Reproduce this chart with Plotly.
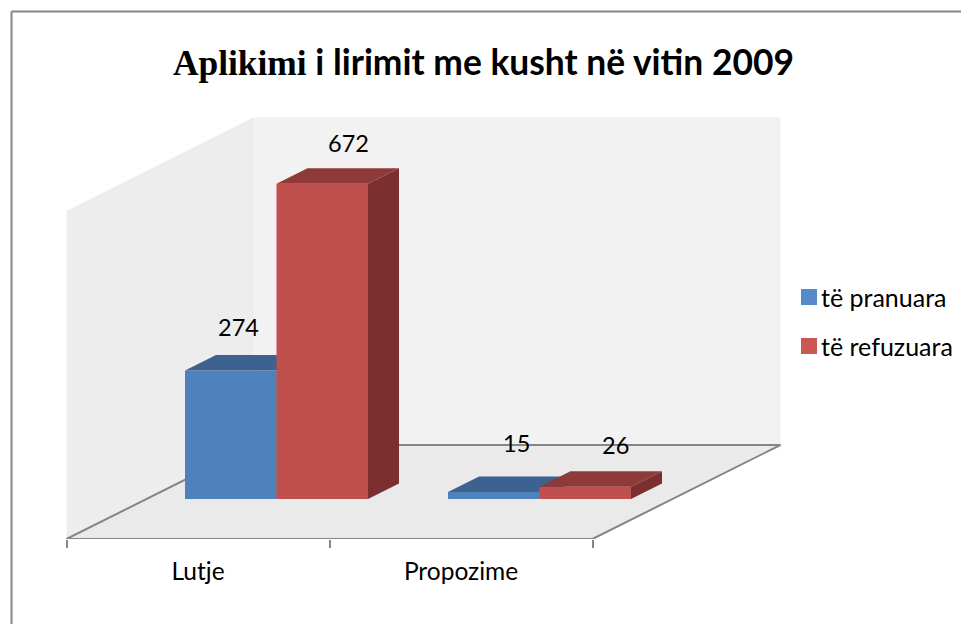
import plotly.graph_objects as go

categories = ["Lutje", "Propozime"]
pranuara = [274, 15]
refuzuara = [672, 26]
series_names = ["të pranuara", "të refuzuara"]

# the page adds an 8px body margin, so the figure is 8px smaller and shifted
PAGE = 8
W, H = 969 - PAGE, 624 - PAGE
PX_PER_CAT = 263.0
PX_PER_VAL = 0.469
X0_PX, Y0_PX, FLOOR_PX = 198.0 - PAGE, 499.0 - PAGE, 539.0 - PAGE


def xu(px):
    return px / PX_PER_CAT


def yu(px):
    return px / PX_PER_VAL


def px_x(p):
    return (p - PAGE) / W


def px_y(p):
    return 1 - (p - PAGE) / H


x_range = [xu(-X0_PX), xu(W - X0_PX)]
y_range = [yu(Y0_PX - FLOOR_PX), yu(Y0_PX)]

BAR_W = xu(91.5)
GROUP_SHIFT = xu(78.5)
DX, DY = xu(31), yu(15.5)
FLOOR_L, FLOOR_R = -0.5, 1.5
FLOOR_Y = y_range[0]
FDX, FDY = xu(188), yu(94)
WALL_H = yu(328)

BLUE, BLUE_TOP = "#4F81BD", "#3D628F"
RED, RED_TOP, RED_SIDE = "#C0504D", "#8E3A38", "#7B2F2E"
BLUE_SIDE = "#325279"
KEY_BLUE, KEY_RED = "#558ACB", "#CB5653"
GRID = "#868686"
FONT = "Lato"
TEXT_SIZE = 24.5
KEY_SIZE = 25
LABEL_SIZE = 23.5

fig = go.Figure()


def face(xs, ys, color, xa, ya):
    fig.add_trace(go.Scatter(x=xs, y=ys, mode="lines", fill="toself", fillcolor=color,
                             line=dict(width=0), hoverinfo="skip", showlegend=False,
                             xaxis=xa, yaxis=ya))


def series(vals, name, offset, front, top, side, xa, ya):
    xc = [i + GROUP_SHIFT + offset for i in range(len(vals))]
    fig.add_trace(go.Bar(x=xc, y=vals, width=BAR_W, name=name, marker=dict(color=front, line=dict(width=0)),
                         showlegend=False, xaxis=xa, yaxis=ya))
    for c, v in zip(xc, vals):
        l, r = c - BAR_W / 2, c + BAR_W / 2
        face([r, r + DX, r + DX, r, r], [0, DY, v + DY, v, 0], side, xa, ya)
        face([l, r, r + DX, l + DX, l], [v, v, v + DY, v + DY, v], top, xa, ya)


series(pranuara, series_names[0], -BAR_W / 2, BLUE, BLUE_TOP, BLUE_SIDE, "x", "y")
series(refuzuara, series_names[1], BAR_W / 2, RED, RED_TOP, RED_SIDE, "x2", "y2")

shapes = []


def poly(pts, color):
    path = "M " + " L ".join(f"{a},{b}" for a, b in pts) + " Z"
    shapes.append(dict(type="path", path=path, xref="x", yref="y", fillcolor=color,
                       line=dict(width=0), layer="below"))


def seg(a, b, c, d):
    shapes.append(dict(type="line", x0=a, y0=b, x1=c, y1=d, xref="x", yref="y",
                       line=dict(color=GRID, width=2), layer="below"))


poly([(FLOOR_L, FLOOR_Y), (FLOOR_L + FDX, FLOOR_Y + FDY), (FLOOR_L + FDX, FLOOR_Y + FDY + WALL_H),
      (FLOOR_L, FLOOR_Y + WALL_H)], "#EDEDED")
poly([(FLOOR_L + FDX, FLOOR_Y + FDY), (FLOOR_R + FDX, FLOOR_Y + FDY), (FLOOR_R + FDX, FLOOR_Y + FDY + WALL_H),
      (FLOOR_L + FDX, FLOOR_Y + FDY + WALL_H)], "#F2F2F2")
poly([(FLOOR_L, FLOOR_Y), (FLOOR_R, FLOOR_Y), (FLOOR_R + FDX, FLOOR_Y + FDY), (FLOOR_L + FDX, FLOOR_Y + FDY)],
     "#EAEAEA")
seg(FLOOR_L, FLOOR_Y, FLOOR_R, FLOOR_Y)
seg(FLOOR_L, FLOOR_Y, FLOOR_L + FDX, FLOOR_Y + FDY)
seg(FLOOR_R, FLOOR_Y, FLOOR_R + FDX, FLOOR_Y + FDY)
seg(FLOOR_L + FDX, FLOOR_Y + FDY, FLOOR_R + FDX, FLOOR_Y + FDY)

# outer chart frame, running off the right and bottom of the page
shapes.append(dict(type="line", xref="paper", yref="paper", x0=px_x(11.5), x1=1, y0=px_y(11.5), y1=px_y(11.5),
                   line=dict(color=GRID, width=2)))
shapes.append(dict(type="line", xref="paper", yref="paper", x0=px_x(11.5), x1=px_x(11.5), y0=0, y1=px_y(11.5),
                   line=dict(color=GRID, width=2)))

annotations = []
label_shifts = [(8, 43), (26, 41), (23, 49), (30, 42)]
label_pts = [(0, -BAR_W / 2, pranuara[0]), (0, BAR_W / 2, refuzuara[0]),
             (1, -BAR_W / 2, pranuara[1]), (1, BAR_W / 2, refuzuara[1])]
for (i, off, v), (sx, sy) in zip(label_pts, label_shifts):
    annotations.append(dict(x=i + GROUP_SHIFT + off, y=v, xref="x", yref="y", text=str(v), showarrow=False,
                            xshift=sx, yshift=sy, font=dict(family=FONT, size=LABEL_SIZE, color="#000000")))

# legend keys and names
for name, key, yc in zip(series_names, [KEY_BLUE, KEY_RED], [297, 346]):
    shapes.append(dict(type="rect", xref="paper", yref="paper", x0=px_x(801), x1=px_x(817),
                       y0=px_y(yc - 8), y1=px_y(yc + 8), fillcolor=key, line=dict(width=0)))
    annotations.append(dict(x=px_x(819), y=px_y(yc), xref="paper", yref="paper", text=name, showarrow=False,
                            xanchor="left", yanchor="middle",
                            font=dict(family=FONT, size=KEY_SIZE, color="#000000")))

fig.update_layout(
    width=W, height=H, autosize=False,
    margin=dict(l=0, r=0, t=0, b=0, pad=0),
    paper_bgcolor="#FFFFFF", plot_bgcolor="rgba(0,0,0,0)",
    barmode="overlay", showlegend=False,
    title=dict(text='<b><span style="font-family:Liberation Serif">Aplikimi</span> i lirimit me kusht në vitin 2009</b>',
               x=px_x(483.5), xanchor="center", y=px_y(63), yanchor="middle",
               font=dict(family=FONT, size=35.4, color="#000000")),
    xaxis=dict(range=x_range, showgrid=False, zeroline=False, showline=False,
               tickmode="array", tickvals=[0, 1], ticktext=categories,
               ticks="outside", ticklen=11, tickcolor="rgba(0,0,0,0)", tickwidth=1,
               tickfont=dict(family=FONT, size=TEXT_SIZE, color="#000000"),
               minor=dict(tickmode="array", tickvals=[-0.5, 0.5, 1.5], ticks="outside", ticklen=8,
                          tickcolor=GRID, tickwidth=2, showgrid=False)),
    yaxis=dict(range=y_range, domain=[(H - FLOOR_PX) / H, 1], visible=False),
    xaxis2=dict(range=x_range, overlaying="x", visible=False, anchor="y2"),
    yaxis2=dict(range=y_range, overlaying="y", visible=False, anchor="x2"),
    shapes=shapes, annotations=annotations,
)
fig.write_html("out.html")
